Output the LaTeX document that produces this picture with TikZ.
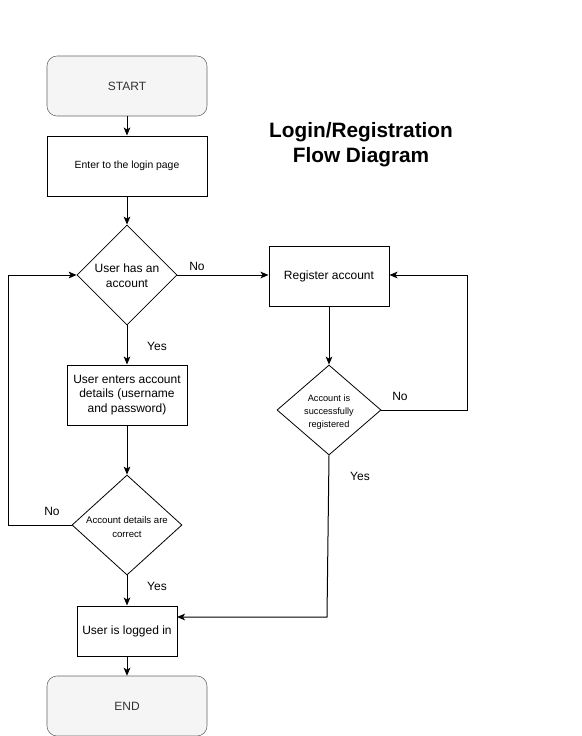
\documentclass[tikz,border=0pt]{standalone}
\usepackage{fontspec}
\setmainfont{Liberation Sans}
\usetikzlibrary{shapes.geometric,arrows.meta}
\definecolor{termfill}{HTML}{F5F5F5}
\definecolor{termline}{HTML}{666666}
\definecolor{termtext}{HTML}{333333}
\tikzset{
  term/.style={draw=termline,fill=termfill,rounded corners=7.5pt,minimum width=120pt,minimum height=45pt,text=termtext,font=\fontsize{9}{11}\selectfont,inner sep=0pt},
  proc/.style={draw,fill=white,line width=0.75pt,align=center,inner sep=0pt,font=\fontsize{9}{11}\selectfont},
  dec/.style={draw,fill=white,diamond,aspect=1,inner sep=0pt,align=center,line width=0.6pt},
  conn/.style={line width=0.75pt,-{Stealth[length=6pt,width=5pt,inset=1.5pt]}},
  lbl/.style={font=\fontsize{9}{11}\selectfont}
}
\begin{document}
\begin{tikzpicture}[x=0.75pt,y=-0.75pt]
\useasboundingbox (0,0) rectangle (582,736);
\node[term] (start) at (127,86) {START};
\node[proc,minimum width=120pt,minimum height=45pt,font=\fontsize{7.8}{10}\selectfont] (enter) at (127,166) {Enter to the login page};
\node[dec,minimum width=75pt,minimum height=75pt,font=\fontsize{9}{11}\selectfont] (has) at (127,275) {};
\node[font=\fontsize{9}{11}\selectfont,align=center] at (127,276) {User has an\\account};
\node[proc,minimum width=90pt,minimum height=45pt] (details) at (127,395) {User enters account\\details (username\\and password)};
\node[dec,minimum width=82.5pt,minimum height=75pt,aspect=1.1] (correct) at (127,525) {};
\node[font=\fontsize{7.2}{10}\selectfont,align=center] at (127,527) {Account details are\\correct};
\node[proc,minimum width=75pt,minimum height=37.5pt] (logged) at (127,631) {User is logged in};
\node[term] (end) at (127,706) {END};
\node[proc,minimum width=90pt,minimum height=45pt] (reg) at (329,276) {Register account};
\node[dec,aspect=1.15,minimum width=78pt,minimum height=67.5pt] (succ) at (329,410) {};
\node[font=\fontsize{6.9}{10}\selectfont,align=center] at (329,412) {Account is\\successfully\\registered};
\node[font=\bfseries\fontsize{15.6}{18.75}\selectfont,align=center] (title) at (361,145) {Login/Registration\\Flow Diagram};

\coordinate (lt) at (8,525);
\coordinate (lb) at (8,275);
\coordinate (rt) at (467,410);
\coordinate (rb) at (467,275);
\coordinate (dn) at (327,617);
\coordinate (lin) at (177,617);

\draw[conn] (start) -- (enter);
\draw[conn] (enter) -- (has);
\draw[conn] (has) -- (details);
\draw[conn] (details) -- (correct);
\draw[conn] (correct) -- (logged);
\draw[conn] (logged) -- (end);
\draw[conn] (has.east) -- (reg.west |- has.east);
\draw[conn] (reg) -- (succ);
\draw[conn] (succ.east) -- (rt) -- (rb) -- (reg.east |- rb);
\draw[conn] (correct.west) -- (lt) -- (lb) -- (has.west);
\draw[conn] (succ.south) -- (dn) -- (lin);

\node[lbl] at (197,266) {No};
\node[lbl] at (157,346) {Yes};
\node[lbl] at (400,396) {No};
\node[lbl] at (360,476) {Yes};
\node[lbl] at (52,511) {No};
\node[lbl] at (157,586) {Yes};
\end{tikzpicture}
\end{document}
